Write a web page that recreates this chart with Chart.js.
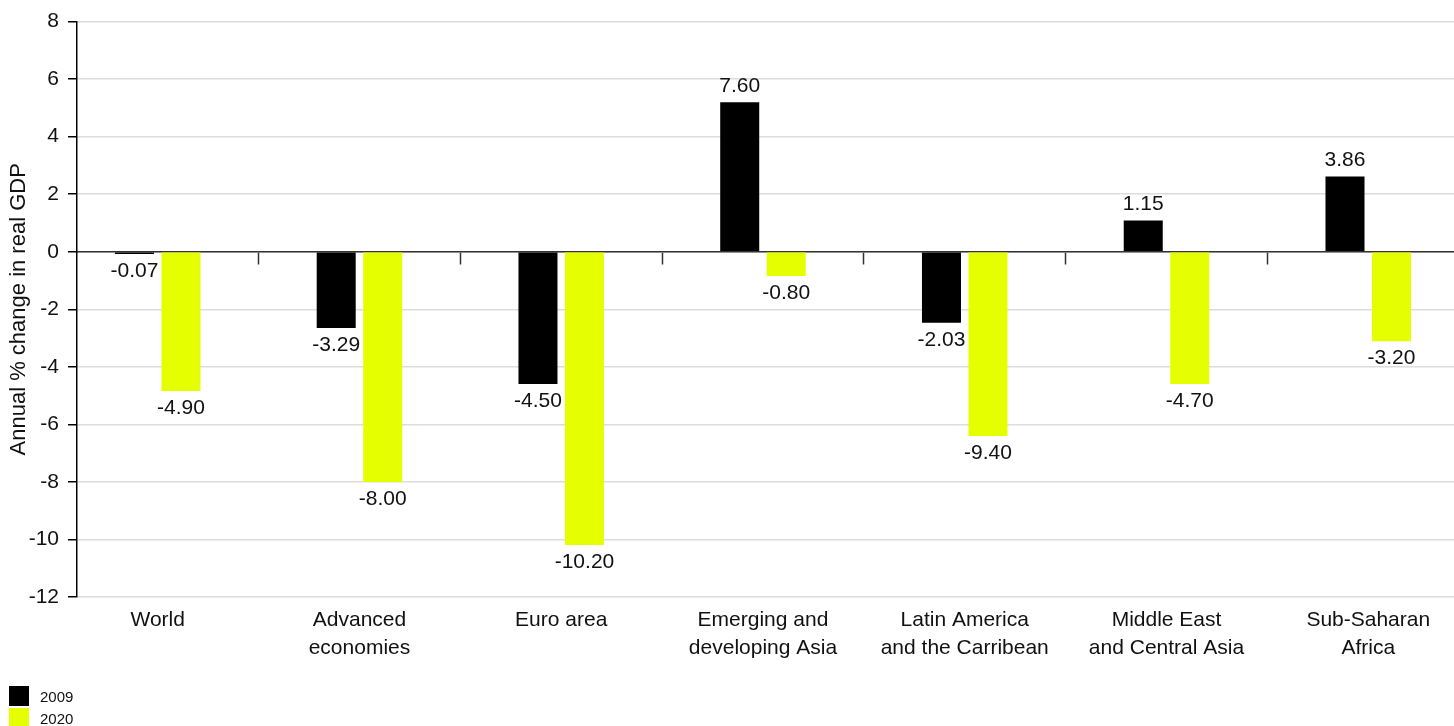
<!DOCTYPE html>
<html>
<head>
<meta charset="utf-8">
<script src="https://cdn.jsdelivr.net/npm/chart.js@4.4.1/dist/chart.umd.min.js"></script>
<style>
  html, body { margin: 0; padding: 0; background: #fff; overflow: hidden; }
  #wrap { position: relative; width: 1454px; height: 726px; }
  #legend { position: absolute; left: 9px; top: 685px; font: 15px "Liberation Sans", Arial, sans-serif; color: #111; }
  #legend .item { display: flex; align-items: center; height: 22px; }
  #legend .box { width: 20px; height: 20px; margin-right: 11px; }
</style>
</head>
<body>
<div id="wrap">
  <canvas id="chart"></canvas>
  <div id="legend"></div>
</div>
<script>
const categories = [
  ["World"],
  ["Advanced", "economies"],
  ["Euro area"],
  ["Emerging and", "developing Asia"],
  ["Latin America", "and the Carribean"],
  ["Middle East", "and Central Asia"],
  ["Sub-Saharan", "Africa"],
];
const seriesNames = ["2009", "2020"];
// bar heights as drawn in the picture
const values2009 = [-0.08, -2.65, -4.6, 5.2, -2.47, 1.09, 2.62];
const values2020 = [-4.84, -8.0, -10.19, -0.84, -6.4, -4.6, -3.11];
// printed value labels
const labels2009 = ["-0.07", "-3.29", "-4.50", "7.60", "-2.03", "1.15", "3.86"];
const labels2020 = ["-4.90", "-8.00", "-10.20", "-0.80", "-9.40", "-4.70", "-3.20"];
const yMin = -12;
const yMax = 8;
const yStep = 2;

const FONT = "'Liberation Sans', Arial, Helvetica, sans-serif";
Chart.defaults.font.family = FONT;
Chart.defaults.color = "#111";

const xMin = -0.4;
const xMax = 6.425;

const valueLabels = {
  id: "valueLabels",
  afterDatasetsDraw(chart) {
    const ctx = chart.ctx;
    ctx.save();
    ctx.font = `21px ${FONT}`;
    ctx.fillStyle = "#111";
    ctx.textAlign = "center";
    ctx.textBaseline = "middle";
    chart.data.datasets.forEach((ds, d) => {
      chart.getDatasetMeta(d).data.forEach((bar, i) => {
        const v = ds.data[i].y;
        const y = v >= 0 ? bar.y - 16 : bar.y + 17;
        ctx.fillText(ds.printed[i], bar.x, y);
      });
    });
    ctx.restore();
  },
};

const htmlLegend = {
  id: "htmlLegend",
  afterUpdate(chart) {
    const box = document.querySelector("#legend");
    box.innerHTML = "";
    const items = chart.options.plugins.legend.labels.generateLabels(chart);
    items.forEach((item) => {
      const row = document.createElement("div");
      row.className = "item";
      const sw = document.createElement("span");
      sw.className = "box";
      sw.style.background = item.fillStyle;
      const txt = document.createElement("span");
      txt.textContent = item.text;
      row.appendChild(sw);
      row.appendChild(txt);
      box.appendChild(row);
    });
  },
};

const toPoints = (vals) => vals.map((v, i) => ({ x: i, y: v }));

new Chart(document.querySelector("#chart"), {
  type: "bar",
  data: {
    datasets: [
      {
        label: seriesNames[0],
        data: toPoints(values2009),
        printed: labels2009,
        backgroundColor: "#000000",
        xAxisID: "x",
      },
      {
        label: seriesNames[1],
        data: toPoints(values2020),
        printed: labels2020,
        backgroundColor: "#e5ff00",
        xAxisID: "x",
      },
    ],
  },
  options: {
    responsive: true,
    maintainAspectRatio: false,
    animation: false,
    categoryPercentage: 0.461,
    barPercentage: 0.839,
    layout: { padding: { top: 21, right: 0, bottom: 54, left: 0 } },
    plugins: {
      legend: { display: false },
      tooltip: { enabled: false },
    },
    scales: {
      x: {
        type: "linear",
        position: "bottom",
        min: xMin,
        max: xMax,
        bounds: "data",
        offset: false,
        afterBuildTicks: (axis) => {
          axis.ticks = categories.map((c, i) => ({ value: i }));
        },
        afterFit: (axis) => {
          axis.height = 75;
        },
        ticks: {
          autoSkip: false,
          maxRotation: 0,
          padding: 2,
          font: { size: 21, lineHeight: 1.3 },
          color: "#111",
          callback: (value, index) => categories[index],
        },
        grid: { display: false, offset: false },
        border: { display: false },
      },
      x2: {
        type: "linear",
        axis: "x",
        position: { y: 0 },
        min: xMin,
        max: xMax,
        bounds: "data",
        offset: false,
        afterBuildTicks: (axis) => {
          axis.ticks = categories.slice(1).map((c, i) => ({ value: i + 0.5 }));
        },
        ticks: { display: false },
        grid: {
          offset: false,
          drawOnChartArea: false,
          drawTicks: true,
          tickLength: 12,
          tickColor: "#333",
          tickWidth: 1.5,
        },
        border: { color: "#333", width: 1.5 },
      },
      y: {
        min: yMin,
        max: yMax,
        afterFit: (axis) => {
          axis.width = 77;
        },
        ticks: {
          stepSize: yStep,
          padding: 9,
          font: { size: 21 },
          color: "#111",
        },
        grid: {
          color: "#dcdcdc",
          lineWidth: 1.5,
          tickColor: "#000",
          tickWidth: 1.5,
          tickLength: 9,
        },
        border: { color: "#000", width: 1.5 },
        title: {
          display: true,
          text: "Annual % change in real GDP",
          font: { size: 22 },
          color: "#111",
          padding: { top: 6, bottom: 0 },
        },
      },
    },
  },
  plugins: [valueLabels, htmlLegend],
});
</script>
</body>
</html>
